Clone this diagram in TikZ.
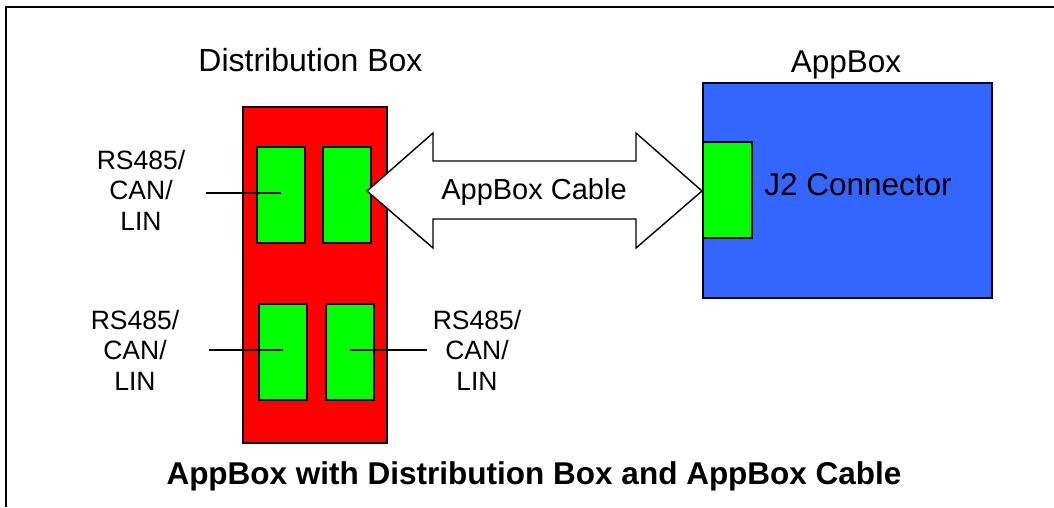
\documentclass[tikz,border=0pt]{standalone}
\usepackage{fontspec}
\setmainfont{Liberation Sans}
\definecolor{boxred}{HTML}{FF0000}
\definecolor{portgreen}{HTML}{00FF00}
\definecolor{appblue}{HTML}{3366FF}
\begin{document}
\begin{tikzpicture}[x=1pt,y=-1pt,
  box/.style={draw=black, line width=2pt, inner sep=0pt, anchor=north west},
  port/.style={box, fill=portgreen, minimum width=48pt, minimum height=96pt},
  lbl/.style={font=\fontsize{26.5}{30.5}\selectfont, align=center, inner sep=0pt, anchor=north},
  title/.style={font=\fontsize{32}{36}\selectfont, inner sep=0pt, anchor=base},
  lead/.style={line width=1.3pt},
  cable/.style={draw=black, fill=white, line width=1.4pt, line join=miter}]
\useasboundingbox (0,0) rectangle (1054,507);
% frame
\draw[line width=2.5pt] (6,507) -- (6,7) -- (1054,7);
% distribution box
\node[box, fill=boxred, minimum width=144pt, minimum height=336pt] (dist) at (242,106) {};
\node[title] (distlbl) at (310.5,71) {Distribution Box};
\node[port] (p1) at (256,146) {};
\node[port] (p2) at (322,146) {};
\node[port] (p3) at (258,303) {};
\node[port] (p4) at (325,303) {};
% AppBox
\node[box, fill=appblue, minimum width=289pt, minimum height=215pt] (app) at (702,82) {};
\node[title, font=\fontsize{31.5}{36}\selectfont] (applbl) at (846,72) {AppBox};
\node[box, fill=portgreen, minimum width=49pt, minimum height=96pt] (j2) at (702,141) {};
\node[title, font=\fontsize{31.5}{36}\selectfont] (j2lbl) at (858,195) {J2 Connector};
% port labels and leads
\node[lbl] (t1) at (141,150) {RS485/\\CAN/\\LIN};
\node[lbl] (t3) at (135,310) {RS485/\\CAN/\\LIN};
\node[lbl] (t4) at (477,310) {RS485/\\CAN/\\LIN};
\coordinate (e1) at (206,193);
\coordinate (e3) at (209,350);
\coordinate (e4) at (427,350);
\draw[lead] (e1) -- (e1 -| p1.center);
\draw[lead] (e3) -- (e3 -| p3.center);
\draw[lead] (e4 -| p4.center) -- (e4);
% cable double arrow
\coordinate (tl) at (367,191);
\coordinate (tr) at (702,191);
\draw[cable] (tl) -- (433,133) -- (433,161) -- (636,161) -- (636,133) -- (tr)
  -- (636,248) -- (636,219) -- (433,219) -- (433,248) -- cycle;
\node[title, font=\fontsize{29}{34}\selectfont] (cablelbl) at (534,199) {AppBox Cable};
% caption
\node[title, font=\fontsize{31.5}{36}\selectfont\bfseries] (caption) at (534,484) {AppBox with Distribution Box and AppBox Cable};
\end{tikzpicture}
\end{document}
